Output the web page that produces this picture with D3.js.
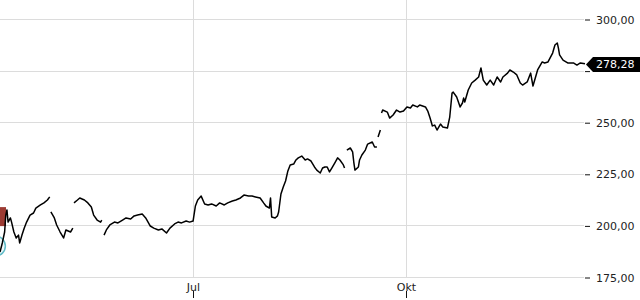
<!doctype html>
<html>
<head>
<meta charset="utf-8">
<script src="https://cdn.jsdelivr.net/npm/d3@7"></script>
<style>
  body { margin: 0; background: #fff; }
  svg { display: block; font-family: "DejaVu Sans", sans-serif; }
</style>
</head>
<body>
<svg id="chart" width="640" height="300"></svg>
<script>
// price series, null = gap in trading data
const dates = [
  "2024-04-08 12","2024-04-09 12","2024-04-10 12","2024-04-11","2024-04-11 12","2024-04-12","2024-04-13","2024-04-13 12",
  "2024-04-14 12","2024-04-15 12","2024-04-16 12","2024-04-17","2024-04-18","2024-04-19","2024-04-20","2024-04-21 12",
  "2024-04-23","2024-04-24","2024-04-26","2024-04-27 12","2024-04-29","2024-04-30", null,
  "2024-04-30 12","2024-05-02","2024-05-03","2024-05-04 12","2024-05-06","2024-05-07","2024-05-09","2024-05-10", null,
  "2024-05-10 12","2024-05-12","2024-05-13","2024-05-15","2024-05-16 12","2024-05-18","2024-05-19","2024-05-20 12",
  "2024-05-22","2024-05-22 12", null,
  "2024-05-23 12","2024-05-24 12","2024-05-26","2024-05-28","2024-05-29 12","2024-05-31 12","2024-06-02","2024-06-04",
  "2024-06-05 12","2024-06-07","2024-06-09","2024-06-10 12","2024-06-12 12","2024-06-14","2024-06-16","2024-06-17 12",
  "2024-06-19 12","2024-06-21","2024-06-23","2024-06-24 12","2024-06-26","2024-06-28","2024-06-29 12","2024-07-01",
  "2024-07-02","2024-07-03","2024-07-04 12","2024-07-06","2024-07-07 12","2024-07-09","2024-07-11","2024-07-12 12",
  "2024-07-14 12","2024-07-16","2024-07-18","2024-07-19 12","2024-07-21 12","2024-07-23","2024-07-25","2024-07-26 12",
  "2024-07-28","2024-07-30","2024-07-31 12","2024-08-01 12","2024-08-03","2024-08-03 12","2024-08-04","2024-08-05 12",
  "2024-08-06 12","2024-08-07","2024-08-08","2024-08-09","2024-08-10","2024-08-11","2024-08-12","2024-08-13 12",
  "2024-08-14 12","2024-08-15 12","2024-08-17","2024-08-18 12","2024-08-19 12","2024-08-21","2024-08-22 12","2024-08-23 12",
  "2024-08-25","2024-08-26","2024-08-27","2024-08-28","2024-08-29","2024-08-30","2024-08-31 12","2024-09-01 12",
  "2024-09-02 12","2024-09-04","2024-09-04 12", null,
  "2024-09-05 12","2024-09-07","2024-09-08","2024-09-08 12","2024-09-09","2024-09-10 12","2024-09-11","2024-09-12",
  "2024-09-13 12","2024-09-14 12","2024-09-16 12","2024-09-17 12","2024-09-18 12", null,
  "2024-09-19","2024-09-20", null,
  "2024-09-20 12","2024-09-21","2024-09-23","2024-09-24","2024-09-25 12","2024-09-27","2024-09-28 12","2024-09-30",
  "2024-10-01 12","2024-10-03","2024-10-04","2024-10-06","2024-10-07","2024-10-09 12","2024-10-10 12","2024-10-11 12",
  "2024-10-12 12","2024-10-13 12","2024-10-14 12","2024-10-16","2024-10-17","2024-10-19","2024-10-20","2024-10-21",
  "2024-10-21 12","2024-10-23","2024-10-24 12","2024-10-25 12","2024-10-26","2024-10-26 12","2024-10-28","2024-10-29 12",
  "2024-10-31","2024-11-01 12","2024-11-02 12","2024-11-03 12","2024-11-05","2024-11-06 12","2024-11-08","2024-11-09 12",
  "2024-11-11","2024-11-12","2024-11-14","2024-11-15","2024-11-16 12","2024-11-18","2024-11-19 12","2024-11-20 12",
  "2024-11-22 12","2024-11-24","2024-11-25","2024-11-26","2024-11-27","2024-11-29","2024-11-30","2024-12-01 12",
  "2024-12-03 12","2024-12-04 12","2024-12-05 12","2024-12-06","2024-12-06 12","2024-12-08","2024-12-10","2024-12-12 12",
  "2024-12-14","2024-12-15 12","2024-12-17 12"
];
const prices = [
  187.1,191.5,196.8,205.0,207.5,201.6,203.6,201.6,
  196.8,193.9,195.3,191.5,195.3,198.7,201.6,205.0,
  206.0,208.4,209.9,210.9,212.3,213.8, null,
  206.5,203.6,200.2,196.8,193.9,197.8,196.8,198.7, null,
  210.9,212.3,213.3,212.3,210.9,208.9,205.0,202.6,
  201.6,202.6, null,
  195.3,197.8,200.2,201.6,201.2,202.6,203.6,203.1,
  204.6,205.0,205.5,203.6,199.7,198.7,197.8,198.3,
  196.3,198.7,200.7,201.6,201.2,202.1,201.6,202.1,
  209.4,212.3,214.2,210.4,209.9,210.4,209.4,210.9,
  209.9,210.9,211.8,212.3,213.3,214.7,214.2,214.2,
  213.8,213.3,210.9,209.4,208.4,213.3,204.1,203.6,
  204.6,206.5,215.2,218.6,221.5,226.4,229.3,229.7,
  231.7,232.7,233.6,231.7,232.2,231.2,228.3,226.8,
  225.4,227.8,228.3,228.3,225.9,227.8,230.7,232.7,
  231.7,229.3,227.8, null,
  236.5,237.5,235.6,230.7,226.8,228.3,231.7,234.1,
  236.5,239.4,240.4,238.0,238.0, null,
  242.8,246.2, null,
  254.5,255.9,254.9,252.0,253.5,255.9,254.9,255.4,
  257.4,256.9,258.3,257.4,258.3,257.4,255.4,252.0,
  248.2,248.6,246.2,249.1,247.7,247.2,252.5,264.1,
  264.6,262.2,257.4,259.3,261.7,259.8,265.6,269.0,
  270.4,271.9,276.3,270.4,268.0,270.4,268.0,271.9,
  269.5,271.9,273.8,275.3,274.3,272.9,269.0,268.0,
  269.5,273.8,267.5,271.4,275.3,279.2,278.7,279.2,
  283.5,287.4,288.4,285.9,282.6,280.1,278.7,278.7,
  277.7,278.7,278.28
];

const yTicks = [175, 200, 225, 250, 275, 300];
const monthTicks = ["2024-07-01", "2024-10-01"];
const monthLabels = ["Jul", "Okt"];

// markers at the left edge (event flags)
const eventDates = ["2024-04-08 12", "2024-04-06 12"];
const eventPrices = [204.5, 190.0];
const eventKinds = ["box", "circle"];

const parseH = d3.timeParse("%Y-%m-%d %H");
const parseD = d3.timeParse("%Y-%m-%d");
const parse = s => s.length > 10 ? parseH(s) : parseD(s);

const de = d3.formatLocale({decimal: ",", thousands: ".", grouping: [3], currency: ["", " €"]});
const fmt = de.format(".2f");

const data = dates.map((d, i) => ({t: d ? parse(d) : null, v: prices[i]}));
const last = data[data.length - 1];

const svg = d3.select("#chart");
const plotRight = 585;

const x = d3.scaleTime()
  .domain([parse("2024-04-08 12"), parse("2024-12-17 12")])
  .range([0, plotRight]);

const y = d3.scaleLinear()
  .domain([175, 300])
  .range([277, 19]);

// horizontal grid
svg.append("g").selectAll("line")
  .data(yTicks)
  .enter().append("line")
    .attr("x1", 0).attr("x2", plotRight - 1)
    .attr("y1", d => Math.round(y(d)) + 0.5)
    .attr("y2", d => Math.round(y(d)) + 0.5)
    .style("stroke", "#dcdcdc");

// vertical grid
svg.append("g").selectAll("line")
  .data(monthTicks)
  .enter().append("line")
    .attr("x1", d => Math.round(x(parse(d))) + 0.5)
    .attr("x2", d => Math.round(x(parse(d))) + 0.5)
    .attr("y1", 0).attr("y2", 278)
    .style("stroke", "#dcdcdc");

// y axis on the right; labels under the last-price tag are dropped
const covered = v => Math.abs(y(v) - y(last.v)) < 12;
const yAxis = d3.axisRight(y)
  .tickValues(yTicks)
  .tickSize(5)
  .tickPadding(6)
  .tickFormat(v => covered(v) ? "" : fmt(v));

const yg = svg.append("g")
  .attr("transform", `translate(${plotRight},0.5)`)
  .call(yAxis);
yg.select(".domain").remove();
yg.selectAll(".tick line").style("stroke", "#111");
yg.selectAll(".tick text")
  .style("font-family", "DejaVu Sans")
  .style("font-size", "11px")
  .style("fill", "#222");

// x labels + ticks under them
const xg = svg.append("g");
xg.selectAll("text")
  .data(monthTicks)
  .enter().append("text")
    .attr("x", d => Math.round(x(parse(d))) + 0.5)
    .attr("y", 291)
    .attr("text-anchor", "middle")
    .style("font-size", "11px")
    .style("fill", "#222")
    .text((d, i) => monthLabels[i]);
xg.selectAll("line")
  .data(monthTicks)
  .enter().append("line")
    .attr("x1", d => Math.round(x(parse(d))) + 0.5)
    .attr("x2", d => Math.round(x(parse(d))) + 0.5)
    .attr("y1", 291).attr("y2", 298)
    .style("stroke", "#111");

// event markers
eventDates.forEach((d, i) => {
  const cx = x(parse(d)), cy = y(eventPrices[i]);
  if (eventKinds[i] === "box") {
    svg.append("rect")
      .attr("x", cx - 7).attr("y", cy - 9)
      .attr("width", 13).attr("height", 19)
      .style("fill", "#9c3b33");
  } else {
    svg.append("circle")
      .attr("cx", cx).attr("cy", cy).attr("r", 10)
      .style("fill", "#eef8f9")
      .style("stroke", "#62bcc8")
      .style("stroke-width", 1.5);
  }
});

// price line
const line = d3.line()
  .defined(d => d.v != null)
  .x(d => x(d.t))
  .y(d => y(d.v));

svg.append("path")
  .datum(data)
  .attr("d", line)
  .style("fill", "none")
  .style("stroke", "#000")
  .style("stroke-width", 1.5)
  .style("stroke-linejoin", "round");

// last price tag
const ly = Math.round(y(last.v)) + 0.5;
const tag = svg.append("g");
tag.append("path")
  .attr("d", `M${plotRight + 1},${ly} L${plotRight + 8},${ly - 7.5} L640,${ly - 7.5} L640,${ly + 7.5} L${plotRight + 8},${ly + 7.5} Z`)
  .style("fill", "#000");
tag.append("text")
  .attr("x", 596)
  .attr("y", ly)
  .attr("dy", "0.35em")
  .style("font-size", "11px")
  .style("fill", "#fff")
  .text(fmt(last.v));
</script>
</body>
</html>
